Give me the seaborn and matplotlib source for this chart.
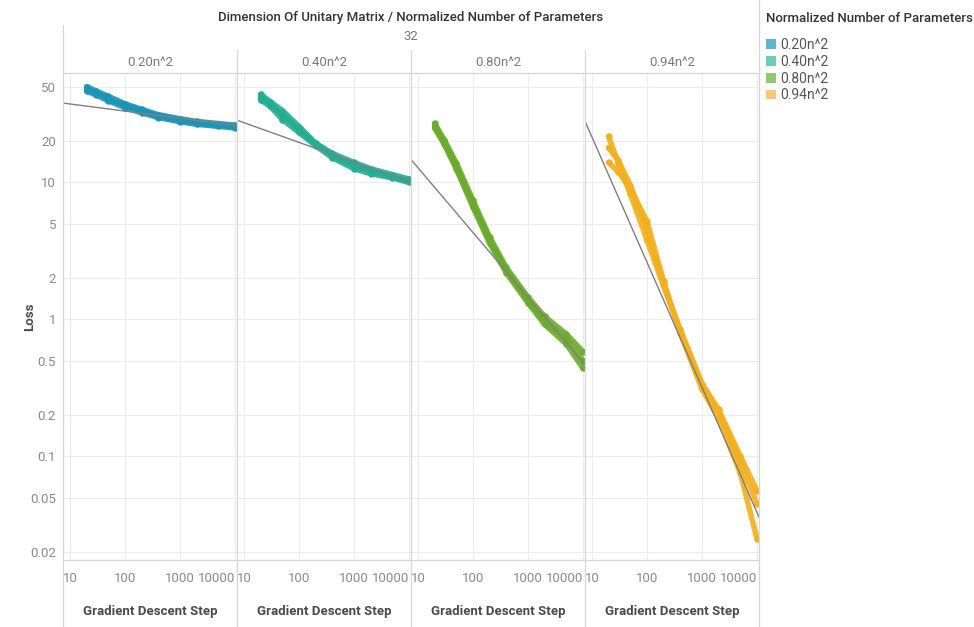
import numpy as np
import pandas as pd
import matplotlib
matplotlib.use("Agg")
import matplotlib.pyplot as plt
from matplotlib.lines import Line2D
from matplotlib.patches import Patch
import seaborn as sns

# -------------------------------
# DATA
# -------------------------------
params = ["0.20n^2", "0.40n^2", "0.80n^2", "0.94n^2"]
steps = [20, 30, 50, 100, 200, 400, 1000, 2000, 5000, 10000]

# three runs per panel
loss_020 = [
    [50, 46.5, 42.5, 37.5, 34.2, 31.3, 29.2, 27.9, 26.9, 26.2],
    [48, 45, 41, 36.5, 33.3, 30.6, 28.5, 27.3, 26.3, 25.6],
    [46.5, 43.5, 39.5, 35.2, 32.3, 29.8, 27.8, 26.6, 25.7, 25.0],
]
loss_040 = [
    [44, 39, 33.5, 25.6, 19.4, 16.3, 14.0, 12.6, 11.4, 10.6],
    [42, 37.5, 31, 24.3, 19.0, 15.8, 13.3, 12.1, 11.0, 10.3],
    [40, 36, 28.8, 23.2, 18.6, 15.2, 12.6, 11.6, 10.8, 10.0],
]
loss_080 = [
    [27, 20.5, 13.8, 7.4, 4.0, 2.4, 1.45, 1.05, 0.78, 0.58],
    [26, 19.5, 13.0, 7.0, 3.8, 2.3, 1.38, 0.97, 0.72, 0.50],
    [25, 19.0, 12.5, 6.6, 3.6, 2.2, 1.32, 0.92, 0.66, 0.44],
]
loss_094 = [
    [21.7, 13.9, 8.2, 3.8, 1.75, 0.85, 0.34, 0.22, 0.10, 0.056],
    [18, 14.5, 9.5, 4.5, 1.8, 0.82, 0.33, 0.21, 0.09, 0.045],
    [14, 12, 9.0, 5.2, 1.9, 0.80, 0.31, 0.19, 0.075, 0.025],
]

# power trend lines (value at left / right edge of each pane)
trend_x = [7.46, 10870]
trend_020 = [38, 26]
trend_040 = [28.5, 10]
trend_080 = [14.7, 0.47]
trend_094 = [28, 0.036]

y_ticks = [0.02, 0.05, 0.1, 0.2, 0.5, 1, 2, 5, 10, 20, 50]
y_tick_labels = ["0.02", "0.05", "0.1", "0.2", "0.5", "1", "2", "5", "10", "20", "50"]
x_ticks = [10, 100, 1000, 10000]
x_tick_labels = ["10", "100", "1000", "10000"]

line_colors = ["#1b94b6", "#24ad93", "#6aab2d", "#f2b01e"]
legend_colors = ["#5fb6d1", "#6fcdb7", "#93c66f", "#f6c877"]

# -------------------------------
# BUILD LONG TABLE
# -------------------------------
rows = []
for p, runs in zip(params, [loss_020, loss_040, loss_080, loss_094]):
    for r, vals in enumerate(runs):
        for s, v in zip(steps, vals):
            rows.append({"params": p, "run": r, "step": s, "loss": v})
df = pd.DataFrame(rows)
trends = dict(zip(params, [trend_020, trend_040, trend_080, trend_094]))

sns.set_theme(style="white")
plt.rcParams["font.family"] = ["Roboto", "DejaVu Sans"]

g = sns.FacetGrid(df, col="params", col_order=params, hue="params",
                  hue_order=params, palette=line_colors, sharex=True,
                  sharey=True, height=4.87, aspect=0.357, despine=False)
g.set(xscale="log", yscale="log")
g.map_dataframe(sns.lineplot, x="step", y="loss", units="run",
                estimator=None, linewidth=4, alpha=0.9)
# dotted start of each run
g.map_dataframe(sns.scatterplot, data=df[df["step"] <= 50], x="step",
                y="loss", s=22, linewidth=0, alpha=0.9)
g.set_titles("")

fig = g.figure
fig.set_size_inches(9.74, 6.27)
fig.subplots_adjust(left=63 / 974, right=759 / 974, top=1 - 73 / 627,
                    bottom=1 - 560 / 627, wspace=0)

grid_c = "#ececec"
line_c = "#d6d6d6"
tick_c = "#8a8a8a"

for i, (ax, p) in enumerate(zip(g.axes.flat, params)):
    ax.plot(trend_x, trends[p], color="#7f7f7f", lw=1.0, zorder=5)
    ax.set_xlim(7.46, 10870)
    ax.set_ylim(0.0175, 63)
    ax.set_yticks(y_ticks)
    ax.set_yticklabels(y_tick_labels)
    ax.set_xticks(x_ticks)
    ax.set_xticklabels(x_tick_labels)
    ax.minorticks_off()
    ax.grid(True, which="major", color=grid_c, lw=0.8)
    ax.set_axisbelow(True)
    ax.tick_params(axis="both", length=0, labelsize=9.5, labelcolor=tick_c)
    ax.tick_params(axis="x", pad=9)
    ax.tick_params(axis="y", pad=5)
    ax.xaxis.get_ticklabels()[-1].set_ha("right")
    for side in ["left", "right"]:
        ax.spines[side].set_visible(False)
    for side in ["top", "bottom"]:
        ax.spines[side].set_color(line_c)
        ax.spines[side].set_linewidth(0.9)
    ax.text(0.5, 1 + 11 / 487, p, transform=ax.transAxes, ha="center",
            va="center", fontsize=9.5, color="#7a7a7a")
    ax.set_xlabel("Gradient Descent Step", fontsize=9.5, fontweight="bold",
                  color="#4a4a4a")
    ax.xaxis.label.set_va("center")
    ax.xaxis.set_label_coords(0.5, -52 / 487)
    if i == 0:
        ax.set_ylabel("Loss", fontsize=9.5, fontweight="bold", color="#4a4a4a")
        ax.yaxis.set_label_coords(-27 / 174, 0.5)
    else:
        ax.set_ylabel("")
        ax.tick_params(axis="y", labelleft=False)

# pane dividers and legend separator
for xp, ytop in [(63, 25), (237, 50), (411, 50), (585, 50)]:
    fig.add_artist(Line2D([xp / 974, xp / 974], [0, 1 - ytop / 627],
                          color=line_c, lw=0.9))
fig.add_artist(Line2D([759 / 974, 759 / 974], [0, 1], color=line_c, lw=0.9))

fig.text(411 / 974, 1 - 18 / 627,
         "Dimension Of Unitary Matrix / Normalized Number of Parameters",
         ha="center", va="center", fontsize=9.5, color="#333333",
         fontweight="medium")
fig.text(411 / 974, 1 - 37 / 627, "32", ha="center", va="center",
         fontsize=9.5, color="#7a7a7a")

# legend
fig.text(766 / 974, 1 - 18 / 627, "Normalized Number of Parameters",
         ha="left", va="center", fontsize=9.5, color="#333333",
         fontweight="medium")
handles = [Patch(facecolor=c, edgecolor="none") for c in legend_colors]
fig.legend(handles, params, loc="upper left",
           bbox_to_anchor=(766 / 974, 1 - 38 / 627), frameon=False,
           handlelength=0.7, handleheight=0.7, handletextpad=0.35,
           labelspacing=0.2, fontsize=10, borderaxespad=0, borderpad=0,
           labelcolor="#555555")

fig.savefig("out.png", dpi=100)
plt.close()
